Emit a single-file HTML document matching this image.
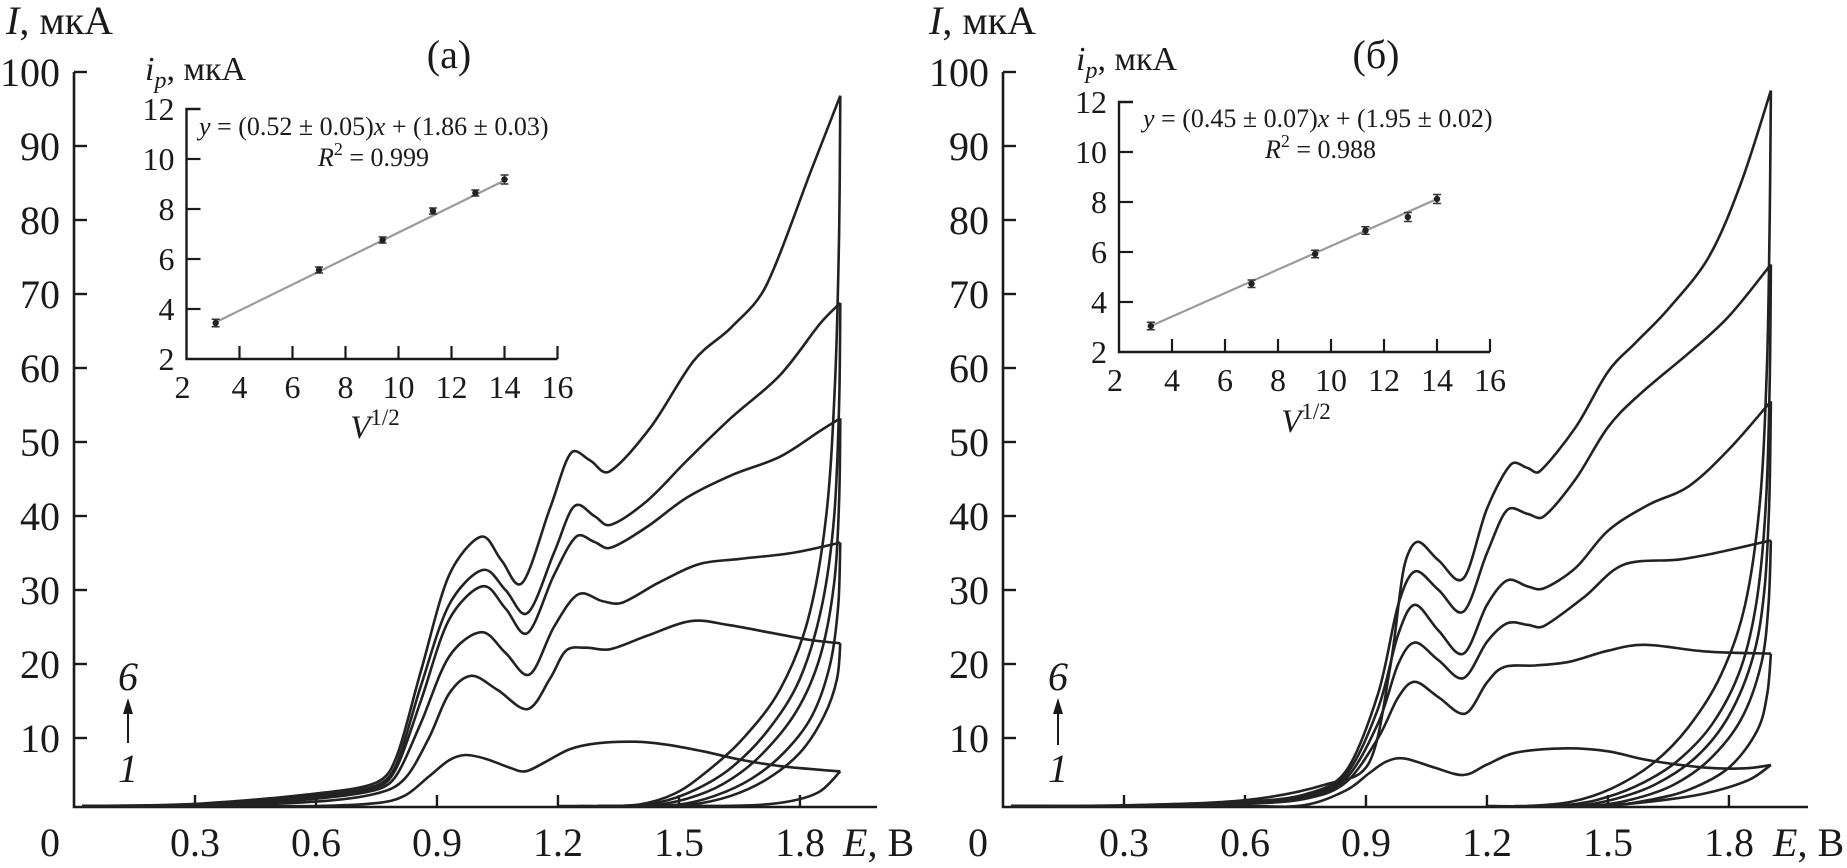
<!DOCTYPE html>
<html><head><meta charset="utf-8"><style>
html,body{margin:0;padding:0;background:#fff}
svg{display:block}
text{font-family:"Liberation Serif",serif;fill:#1a1a1a}
</style></head><body>
<div style="position:relative;width:1847px;height:868px">
<svg id="chart" width="1847" height="868" viewBox="0 0 1847 868" xmlns="http://www.w3.org/2000/svg" style="position:absolute;left:0;top:0">
<g id="panelA"></g>
<g id="panelB"></g>
</svg>
<svg width="1847" height="868" viewBox="0 0 1847 868" xmlns="http://www.w3.org/2000/svg" style="position:absolute;left:0;top:0">
  <text x="6" y="34" font-size="40"><tspan font-style="italic">I</tspan>, мкА</text>
  <text x="449" y="68" font-size="40" text-anchor="middle">(а)</text>
  <text x="843" y="856" font-size="40"><tspan font-style="italic">E</tspan>, В</text>
  <text x="50" y="856" font-size="40" text-anchor="middle">0</text>
  <text x="145" y="80" font-size="34"><tspan font-style="italic">i</tspan><tspan font-style="italic" font-size="24" dy="8">p</tspan><tspan dy="-8">, мкА</tspan></text>
  <text x="199" y="135" font-size="26"><tspan font-style="italic">y</tspan> = (0.52 ± 0.05)<tspan font-style="italic">x</tspan> + (1.86 ± 0.03)</text>
  <text x="318" y="166" font-size="26"><tspan font-style="italic">R</tspan><tspan font-size="18" dy="-11">2</tspan><tspan dy="11"> = 0.999</tspan></text>
  <text x="375" y="438" font-size="33" text-anchor="middle"><tspan font-style="italic">V</tspan><tspan font-size="23" dy="-13">1/2</tspan></text>
  <text x="128" y="690" font-size="40" font-style="italic" text-anchor="middle">6</text>
  <text x="128" y="782" font-size="40" font-style="italic" text-anchor="middle">1</text>
  <line x1="128" y1="743" x2="128" y2="712" stroke="#1a1a1a" stroke-width="2"/>
  <polygon points="128,698 123,714 133,714" fill="#1a1a1a"/>

  <text x="929" y="34" font-size="40"><tspan font-style="italic">I</tspan>, мкА</text>
  <text x="1376" y="68" font-size="40" text-anchor="middle">(б)</text>
  <text x="1773" y="856" font-size="40"><tspan font-style="italic">E</tspan>, В</text>
  <text x="978" y="856" font-size="40" text-anchor="middle">0</text>
  <text x="1076" y="70" font-size="34"><tspan font-style="italic">i</tspan><tspan font-style="italic" font-size="24" dy="8">p</tspan><tspan dy="-8">, мкА</tspan></text>
  <text x="1143" y="127" font-size="26"><tspan font-style="italic">y</tspan> = (0.45 ± 0.07)<tspan font-style="italic">x</tspan> + (1.95 ± 0.02)</text>
  <text x="1265" y="158" font-size="26"><tspan font-style="italic">R</tspan><tspan font-size="18" dy="-11">2</tspan><tspan dy="11"> = 0.988</tspan></text>
  <text x="1306" y="432" font-size="33" text-anchor="middle"><tspan font-style="italic">V</tspan><tspan font-size="23" dy="-13">1/2</tspan></text>
  <text x="1058" y="690" font-size="40" font-style="italic" text-anchor="middle">6</text>
  <text x="1058" y="782" font-size="40" font-style="italic" text-anchor="middle">1</text>
  <line x1="1058" y1="745" x2="1058" y2="712" stroke="#1a1a1a" stroke-width="2"/>
  <polygon points="1058,698 1053,714 1063,714" fill="#1a1a1a"/>
</svg>
</div>
<script>
// ---- main chart data (E in V, I in µA) ----
const xTicks = [0.3, 0.6, 0.9, 1.2, 1.5, 1.8];
const xTickLabels = ["0.3", "0.6", "0.9", "1.2", "1.5", "1.8"];
const yTicks = [10, 20, 30, 40, 50, 60, 70, 80, 90, 100];
const yTickLabels = ["10", "20", "30", "40", "50", "60", "70", "80", "90", "100"];

// Panel (a) forward scans
const fwdA1 = [[0.02,0.2],[0.3,0.5],[0.6,0.8],[0.75,1.2],[0.82,2.2],[0.88,4.8],[0.93,7],[0.97,7.7],[1.02,7.2],[1.08,6],[1.12,5.5],[1.17,6.8],[1.23,8.5],[1.3,9.3],[1.39,9.5],[1.47,9.1],[1.56,8.2],[1.65,7.1],[1.75,6.2],[1.85,5.7],[1.9,5.5]];
const fwdA2 = [[0.02,0.3],[0.3,0.7],[0.6,1.4],[0.75,2.5],[0.82,4.5],[0.88,10],[0.93,16],[0.985,18.4],[1.05,16.5],[1.125,13.9],[1.18,18],[1.22,21.8],[1.27,22.2],[1.33,22],[1.42,23.8],[1.53,25.8],[1.62,25.3],[1.72,24.3],[1.82,23.3],[1.9,22.8]];
const fwdA3 = [[0.02,0.4],[0.3,0.8],[0.6,1.8],[0.75,3],[0.8,5],[0.86,12],[0.93,21],[1.01,24.3],[1.07,21.5],[1.13,18.6],[1.19,25],[1.25,29.4],[1.31,28.5],[1.36,28.3],[1.45,31],[1.55,33.5],[1.65,34.2],[1.78,35],[1.9,36.4]];
const fwdA4 = [[0.02,0.4],[0.3,0.9],[0.6,2],[0.75,3.3],[0.8,6],[0.86,15],[0.93,26],[1.013,30.5],[1.07,27.5],[1.125,24.2],[1.19,32],[1.245,37.2],[1.29,36.5],[1.33,35.7],[1.42,38.5],[1.52,42.5],[1.63,45.5],[1.75,48],[1.85,51.5],[1.9,53.2]];
const fwdA5 = [[0.02,0.5],[0.3,1],[0.6,2.2],[0.75,3.6],[0.8,6.5],[0.86,17],[0.93,28],[1.013,32.7],[1.07,30],[1.125,26.9],[1.19,35],[1.24,41.3],[1.29,40],[1.33,38.8],[1.42,42],[1.52,47.5],[1.63,53.3],[1.75,59],[1.85,66],[1.9,68.8]];
const fwdA6 = [[0.02,0.5],[0.3,1.1],[0.6,2.5],[0.75,4],[0.8,7.5],[0.86,19],[0.93,32],[1.009,37.2],[1.06,34],[1.112,31],[1.18,41],[1.232,48.5],[1.28,47.5],[1.327,46],[1.43,52],[1.537,61],[1.63,65.5],[1.715,71],[1.83,87],[1.9,96.8]];
// Panel (a) reverse scans
const revA1 = [[1.9,5.5],[1.85,2.8],[1.78,1.5],[1.68,0.9],[1.5,0.5],[1.3,0.5]];
const revA2 = [[1.9,22.8],[1.892,18],[1.86,13],[1.8,8],[1.72,4.5],[1.63,2.2],[1.53,1],[1.42,0.6],[1.3,0.5]];
const revA3 = [[1.9,36.4],[1.895,28],[1.875,20],[1.83,13],[1.76,8],[1.68,4.5],[1.59,2.2],[1.5,1],[1.4,0.6],[1.3,0.5]];
const revA4 = [[1.9,53.2],[1.897,42],[1.885,31],[1.85,21],[1.79,13.5],[1.7,7.5],[1.61,3.8],[1.52,1.8],[1.42,0.8],[1.3,0.5]];
const revA5 = [[1.9,68.8],[1.897,55],[1.885,40],[1.855,28],[1.8,18],[1.72,11],[1.63,6],[1.54,3],[1.45,1.3],[1.35,0.6],[1.25,0.5]];
const revA6 = [[1.9,96.8],[1.897,78],[1.887,58],[1.865,40],[1.82,26],[1.75,16.5],[1.66,10],[1.57,5.5],[1.49,2.5],[1.4,1],[1.3,0.6],[1.2,0.5]];

// Panel (b) forward scans
const fwdB1 = [[0.02,0.2],[0.3,0.5],[0.6,0.8],[0.745,0.9],[0.85,2.9],[0.907,5.2],[0.95,6.8],[0.994,7.25],[1.07,6],[1.142,5.0],[1.2,6.4],[1.27,8],[1.39,8.6],[1.5,8.2],[1.6,7.0],[1.74,6.0],[1.84,5.9],[1.904,6.35]];
const fwdB2 = [[0.02,0.3],[0.3,0.6],[0.6,1.1],[0.75,1.8],[0.85,4],[0.93,10],[0.98,15.5],[1.021,17.6],[1.08,15.5],[1.146,13.3],[1.2,17.5],[1.243,19.6],[1.32,19.8],[1.404,20.3],[1.5,21.8],[1.592,22.6],[1.74,21.7],[1.904,21.4]];
const fwdB3 = [[0.02,0.3],[0.3,0.7],[0.6,1.2],[0.75,2],[0.85,4.5],[0.93,12],[0.98,20],[1.021,22.9],[1.08,20.5],[1.142,18.1],[1.2,23],[1.25,25.5],[1.3,25.3],[1.34,25.1],[1.44,29],[1.538,33.4],[1.673,34.1],[1.767,35],[1.904,36.7]];
const fwdB4 = [[0.02,0.4],[0.3,0.8],[0.6,1.3],[0.75,2.2],[0.85,5],[0.93,14],[0.98,24],[1.021,28],[1.08,24.5],[1.142,21.4],[1.2,28],[1.25,31.3],[1.3,30.5],[1.34,30.2],[1.42,33],[1.5,38],[1.6,41.5],[1.7,44],[1.8,49],[1.904,55.5]];
const fwdB5 = [[0.02,0.4],[0.3,0.8],[0.6,1.4],[0.75,2.4],[0.85,5.5],[0.93,16],[0.98,28],[1.021,32.5],[1.08,30],[1.142,27.1],[1.2,35],[1.25,40.8],[1.3,40.3],[1.34,39.9],[1.42,45],[1.5,52],[1.58,56.5],[1.7,62],[1.8,67],[1.904,74]];
const fwdB6 = [[0.02,0.5],[0.3,0.9],[0.6,1.6],[0.799,3.7],[0.907,6.6],[0.96,19.6],[0.994,33],[1.027,36.5],[1.08,34],[1.142,31.6],[1.2,41],[1.26,47],[1.3,46.5],[1.33,46],[1.42,52],[1.5,59.5],[1.57,63.5],[1.65,68],[1.75,75],[1.83,85],[1.904,97.5]];
// Panel (b) reverse scans
const revB1 = [[1.904,6.35],[1.848,4.3],[1.74,2.5],[1.605,1.4],[1.47,0.8],[1.3,0.5]];
const revB2 = [[1.904,21.4],[1.895,16],[1.87,11],[1.8,6],[1.7,3],[1.6,1.6],[1.5,0.8],[1.38,0.5]];
const revB3 = [[1.904,36.7],[1.898,28],[1.88,20],[1.83,12.5],[1.75,7],[1.66,3.6],[1.56,1.7],[1.46,0.8],[1.35,0.5]];
const revB4 = [[1.904,55.5],[1.9,42],[1.888,30],[1.86,21],[1.8,13],[1.72,7.5],[1.62,3.8],[1.52,1.8],[1.42,0.8],[1.3,0.5]];
const revB5 = [[1.904,74],[1.901,58],[1.892,42],[1.87,29],[1.83,19.5],[1.76,12],[1.67,6.8],[1.57,3.5],[1.47,1.6],[1.37,0.7],[1.27,0.5]];
const revB6 = [[1.904,97.5],[1.901,80],[1.894,60],[1.877,42],[1.84,28],[1.78,18.5],[1.7,11.5],[1.61,6.5],[1.51,3.2],[1.41,1.4],[1.3,0.6],[1.2,0.5]];

// ---- inset data ----
const insetXTicks = [2, 4, 6, 8, 10, 12, 14, 16];
const insetYTicks = [2, 4, 6, 8, 10, 12];
const insetXA = [3.1, 7.0, 9.4, 11.3, 12.9, 14.0];
const insetYA = [3.44, 5.56, 6.76, 7.92, 8.64, 9.18];
const insetErrA = [0.15, 0.12, 0.12, 0.12, 0.12, 0.18];
const insetXB = [3.2, 7.0, 9.4, 11.3, 12.9, 14.0];
const insetYB = [3.04, 4.73, 5.92, 6.86, 7.4, 8.12];
const insetErrB = [0.15, 0.15, 0.15, 0.15, 0.18, 0.18];
const fitXA = [3.1, 14.0];
const fitYA = [3.47, 9.14];
const fitXB = [3.2, 14.0];
const fitYB = [3.04, 8.12];

const NS = "http://www.w3.org/2000/svg";
function el(tag, attrs, parent) {
  const e = document.createElementNS(NS, tag);
  for (const k in attrs) e.setAttribute(k, attrs[k]);
  parent.appendChild(e);
  return e;
}
function clampVec(vx, vy, maxLen) {
  const L = Math.hypot(vx, vy);
  if (L > maxLen && L > 0) { const s = maxLen / L; return [vx * s, vy * s]; }
  return [vx, vy];
}
function smooth(pts) {
  let d = "M" + pts[0][0].toFixed(1) + "," + pts[0][1].toFixed(1);
  const n = pts.length;
  for (let i = 0; i < n - 1; i++) {
    const p0 = pts[Math.max(i - 1, 0)], p1 = pts[i], p2 = pts[i + 1], p3 = pts[Math.min(i + 2, n - 1)];
    const seg = Math.hypot(p2[0] - p1[0], p2[1] - p1[1]);
    const a = clampVec((p2[0] - p0[0]) / 6, (p2[1] - p0[1]) / 6, seg * 0.4);
    const b = clampVec((p3[0] - p1[0]) / 6, (p3[1] - p1[1]) / 6, seg * 0.4);
    d += "C" + (p1[0] + a[0]).toFixed(1) + "," + (p1[1] + a[1]).toFixed(1) + " " + (p2[0] - b[0]).toFixed(1) + "," + (p2[1] - b[1]).toFixed(1) + " " + p2[0].toFixed(1) + "," + p2[1].toFixed(1);
  }
  return d;
}

function drawPanel(g, off, fwd, rev, insetX, insetY, insetErr, fitX, fitY, cfg) {
  const X = E => off + 74 + 403.3 * E;
  const Y = v => 812 - 7.4 * v;
  const Yc = v => Math.min(Y(v), 806);
  const ax = el("path", {d: `M${off+74},72 L${off+74},807 L${off + cfg.axEnd},807`, fill: "none", stroke: "#1a1a1a", "stroke-width": 2.6}, g);
  
  
  yTicks.forEach((v, i) => {
    const t = el("line", {x1: off+74, x2: off+87, y1: Y(v), y2: Y(v), stroke: "#1a1a1a", "stroke-width": 2.4}, g);
    
    
    const l = el("text", {x: off+60, y: Y(v) + 14, "text-anchor": "end", "font-size": 40}, g);
    l.textContent = yTickLabels[i];
    
    
  });
  xTicks.forEach((v, i) => {
    const t = el("line", {x1: X(v), x2: X(v), y1: 807, y2: 795, stroke: "#1a1a1a", "stroke-width": 2.4}, g);
    
    
    const l = el("text", {x: X(v), y: 856, "text-anchor": "middle", "font-size": 40}, g);
    l.textContent = xTickLabels[i];
    
    
  });
  fwd.forEach((c, i) => {
    const p = el("path", {d: smooth(c.map(q => [X(q[0]), Yc(q[1])])), fill: "none", stroke: "#222", "stroke-width": 2.6, "stroke-linejoin": "round"}, g);
    
    
  });
  rev.forEach((c, i) => {
    const p = el("path", {d: smooth(c.map(q => [X(q[0]), Yc(q[1])])), fill: "none", stroke: "#222", "stroke-width": 2.6}, g);
    
    
  });
  const IX = v => cfg.ix0 + 26.5 * (v - 2);
  const IY = v => cfg.iy0 - 25 * (v - 2);
  const iax = el("path", {d: `M${IX(2)+14},${IY(12)} L${IX(2)},${IY(12)} L${IX(2)},${IY(2)} L${IX(16)},${IY(2)}`, fill: "none", stroke: "#1a1a1a", "stroke-width": 2.4}, g);
  
  
  insetYTicks.forEach(v => {
    if (v > 2 && v < 12) {
      const t = el("line", {x1: IX(2), x2: IX(2) + 14, y1: IY(v), y2: IY(v), stroke: "#1a1a1a", "stroke-width": 2.2}, g);
      
      
    }
    const l = el("text", {x: IX(2) - 12, y: IY(v) + 11, "text-anchor": "end", "font-size": 32}, g);
    l.textContent = String(v);
    
    
  });
  insetXTicks.forEach(v => {
    if (v > 2) {
      const t = el("line", {x1: IX(v), x2: IX(v), y1: IY(2), y2: IY(2) - 13, stroke: "#1a1a1a", "stroke-width": 2.2}, g);
      
      
    }
    const l = el("text", {x: IX(v) - (v === 2 ? 4 : 0), y: IY(2) + 39, "text-anchor": "middle", "font-size": 32}, g);
    l.textContent = String(v);
    
    
  });
  const fit = el("line", {x1: IX(fitX[0]), y1: IY(fitY[0]), x2: IX(fitX[1]), y2: IY(fitY[1]), stroke: "#9a9a9a", "stroke-width": 2.2}, g);
  
  
  insetX.forEach((xv, i) => {
    const cx = IX(xv), cy = IY(insetY[i]), e = insetErr[i] * 25;
    const b = el("path", {d: `M${cx},${cy-e} L${cx},${cy+e} M${cx-4},${cy-e} L${cx+4},${cy-e} M${cx-4},${cy+e} L${cx+4},${cy+e}`, stroke: "#333", "stroke-width": 1.6, fill: "none"}, g);
    
    
    const m = el("circle", {cx: cx, cy: cy, r: 3.2, fill: "#222"}, g);
    
    
  });
}

const gA = document.getElementById("panelA");
const gB = document.getElementById("panelB");
drawPanel(gA, 0, [fwdA1,fwdA2,fwdA3,fwdA4,fwdA5,fwdA6], [revA1,revA2,revA3,revA4,revA5,revA6], insetXA, insetYA, insetErrA, fitXA, fitYA, {axEnd: 877, ix0: 186.5, iy0: 359});
drawPanel(gB, 929, [fwdB1,fwdB2,fwdB3,fwdB4,fwdB5,fwdB6], [revB1,revB2,revB3,revB4,revB5,revB6], insetXB, insetYB, insetErrB, fitXB, fitYB, {axEnd: 879, ix0: 1119, iy0: 352});
</script>
</body></html>
